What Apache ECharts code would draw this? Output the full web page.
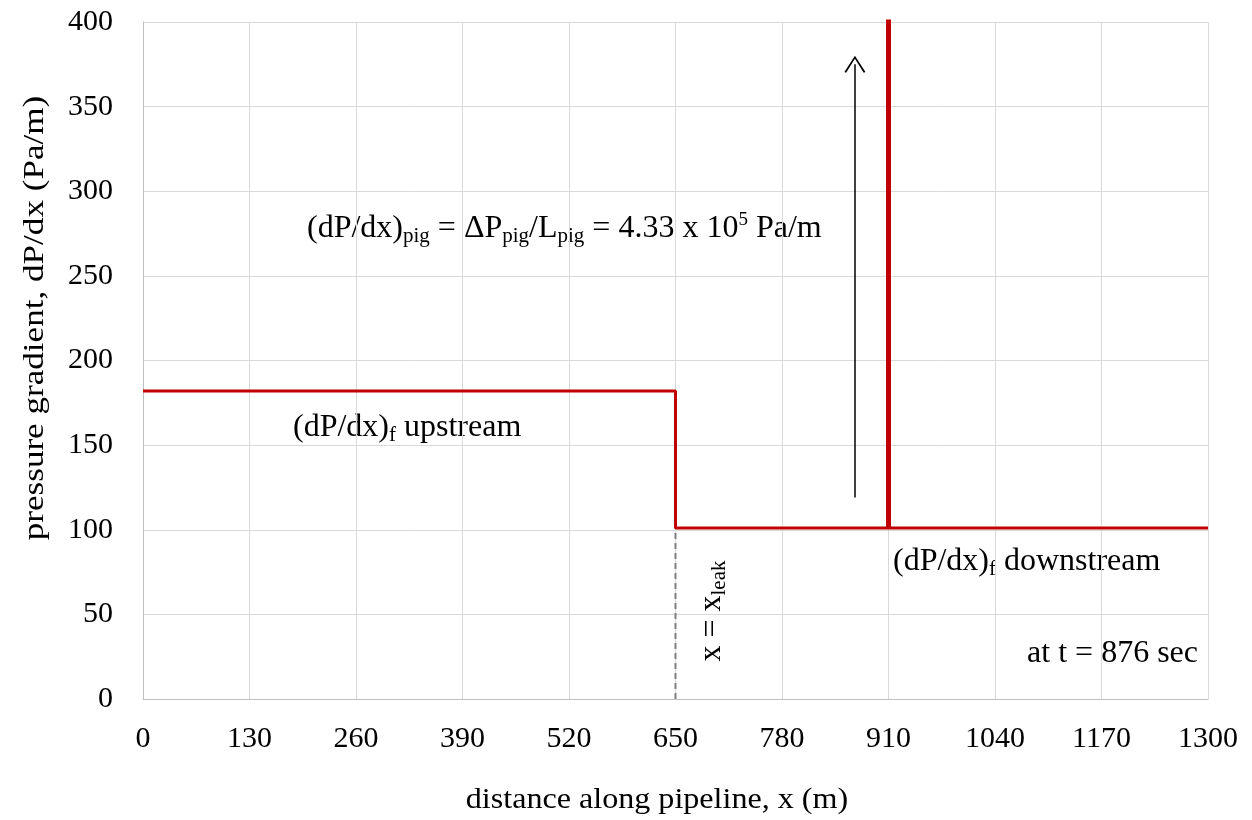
<!DOCTYPE html>
<html>
<head>
<meta charset="utf-8">
<script src="https://cdn.jsdelivr.net/npm/echarts@6/dist/echarts.min.js"></script>
<style>html,body{margin:0;padding:0;background:#fff}#c{width:1252px;height:820px}</style>
</head>
<body>
<div id="c"></div>
<script>
// ---- data ----
const xTicks = [0,130,260,390,520,650,780,910,1040,1170,1300];
const yTicks = [0,50,100,150,200,250,300,350,400];
const upstreamX = [0, 650];
const upstreamY = 182;
const downstreamX = [650, 1300];
const downstreamY = 101;
const leakX = 650;
const pigX = 910;
const pigGradient = 433000; // Pa/m, off-scale spike
const arrowX = 869;
const arrowY = [119, 375];

const FONT = "'Liberation Serif','Times New Roman',serif";
const RED = '#c00000';

// build the step profile from the named values
const stepLine = [
  [upstreamX[0], upstreamY],
  [upstreamX[1], upstreamY],
  [leakX, downstreamY],
  [downstreamX[1], downstreamY]
];
const spike = [[pigX, downstreamY], [pigX, pigGradient]];
const leakLine = [[leakX, 0], [leakX, downstreamY]];

const richBase = {
  b: {fontFamily: FONT, fontSize: 32, color: '#000', lineHeight: 36, verticalAlign: 'middle'},
  s: {fontFamily: FONT, fontSize: 21, color: '#000', lineHeight: 21, verticalAlign: 'bottom'},
  p: {fontFamily: FONT, fontSize: 19, color: '#000', lineHeight: 19, verticalAlign: 'top'}
};

const chart = echarts.init(document.getElementById('c'), null, {renderer: 'canvas'});
chart.setOption({
  animation: false,
  backgroundColor: '#fff',
  grid: {left: 143, right: 44, top: 22, bottom: 121, containLabel: false},
  xAxis: {
    type: 'value', min: xTicks[0], max: xTicks[xTicks.length-1], interval: 130,
    axisLine: {show: true, lineStyle: {color: '#bfbfbf', width: 1}},
    axisTick: {show: false},
    axisLabel: {fontFamily: FONT, fontSize: 30, color: '#000', margin: 25,
      formatter: v => String(v)},
    splitLine: {show: true, lineStyle: {color: '#d9d9d9', width: 1}}
  },
  yAxis: {
    type: 'value', min: yTicks[0], max: yTicks[yTicks.length-1], interval: 50,
    axisLine: {show: true, lineStyle: {color: '#bfbfbf', width: 1}},
    axisTick: {show: false},
    axisLabel: {fontFamily: FONT, fontSize: 30, color: '#000', margin: 30,
      formatter: v => String(v)},
    splitLine: {show: true, lineStyle: {color: '#d9d9d9', width: 1}}
  },
  series: [
    {
      type: 'line', data: leakLine, symbol: 'none', silent: true,
      lineStyle: {color: '#7f7f7f', width: 2, type: [6, 4]}
    },
    {
      type: 'line', data: stepLine, symbol: 'none', silent: true,
      lineStyle: {color: RED, width: 3}
    },
    {
      type: 'line', data: spike, symbol: 'none', silent: true, clip: true,
      lineStyle: {color: RED, width: 5}
    },
    {
      type: 'line', data: [], symbol: 'none', silent: true,
      markLine: {
        silent: true,
        symbol: ['none', 'path://M0,10 L5,0 L10,10 L9.2,10.5 L5,1.8 L0.8,10.5 Z'],
        symbolSize: [21, 17],
        label: {show: false},
        lineStyle: {color: '#000', width: 1.5, type: 'solid'},
        data: [[{coord: [arrowX, arrowY[0]]}, {coord: [arrowX, arrowY[1]]}]]
      }
    }
  ],
  graphic: [
    {
      type: 'text', x: 35, y: 318, rotation: Math.PI/2, scaleX: 1.17,
      style: {text: 'pressure gradient, dP/dx (Pa/m)', font: '30px ' + FONT, fill: '#000', align: 'center', verticalAlign: 'middle'}
    },
    {
      type: 'text', x: 657, y: 800, scaleX: 1.07,
      style: {text: 'distance along pipeline, x (m)', font: '30px ' + FONT, fill: '#000', align: 'center', verticalAlign: 'middle'}
    },
    {
      type: 'text', x: 307, y: 229,
      style: {
        text: '{b|(dP/dx)}{s|pig}{b| = ΔP}{s|pig}{b|/L}{s|pig}{b| = 4.33 x 10}{p|5}{b| Pa/m}',
        align: 'left', verticalAlign: 'middle', rich: richBase
      }
    },
    {
      type: 'text', x: 293, y: 428,
      style: {
        text: '{b|(dP/dx)}{s|f}{b| upstream}',
        align: 'left', verticalAlign: 'middle', rich: richBase
      }
    },
    {
      type: 'text', x: 893, y: 562,
      style: {
        text: '{b|(dP/dx)}{s|f}{b| downstream}',
        align: 'left', verticalAlign: 'middle', rich: richBase
      }
    },
    {
      type: 'text', x: 1198, y: 654,
      style: {text: 'at t = 876 sec', font: '32px ' + FONT, fill: '#000', align: 'right', verticalAlign: 'middle'}
    },
    {
      type: 'text', x: 712, y: 611, rotation: Math.PI/2,
      style: {
        text: '{b|x = x}{s|leak}',
        align: 'center', verticalAlign: 'middle', rich: richBase
      }
    }
  ]
});
</script>
</body>
</html>
